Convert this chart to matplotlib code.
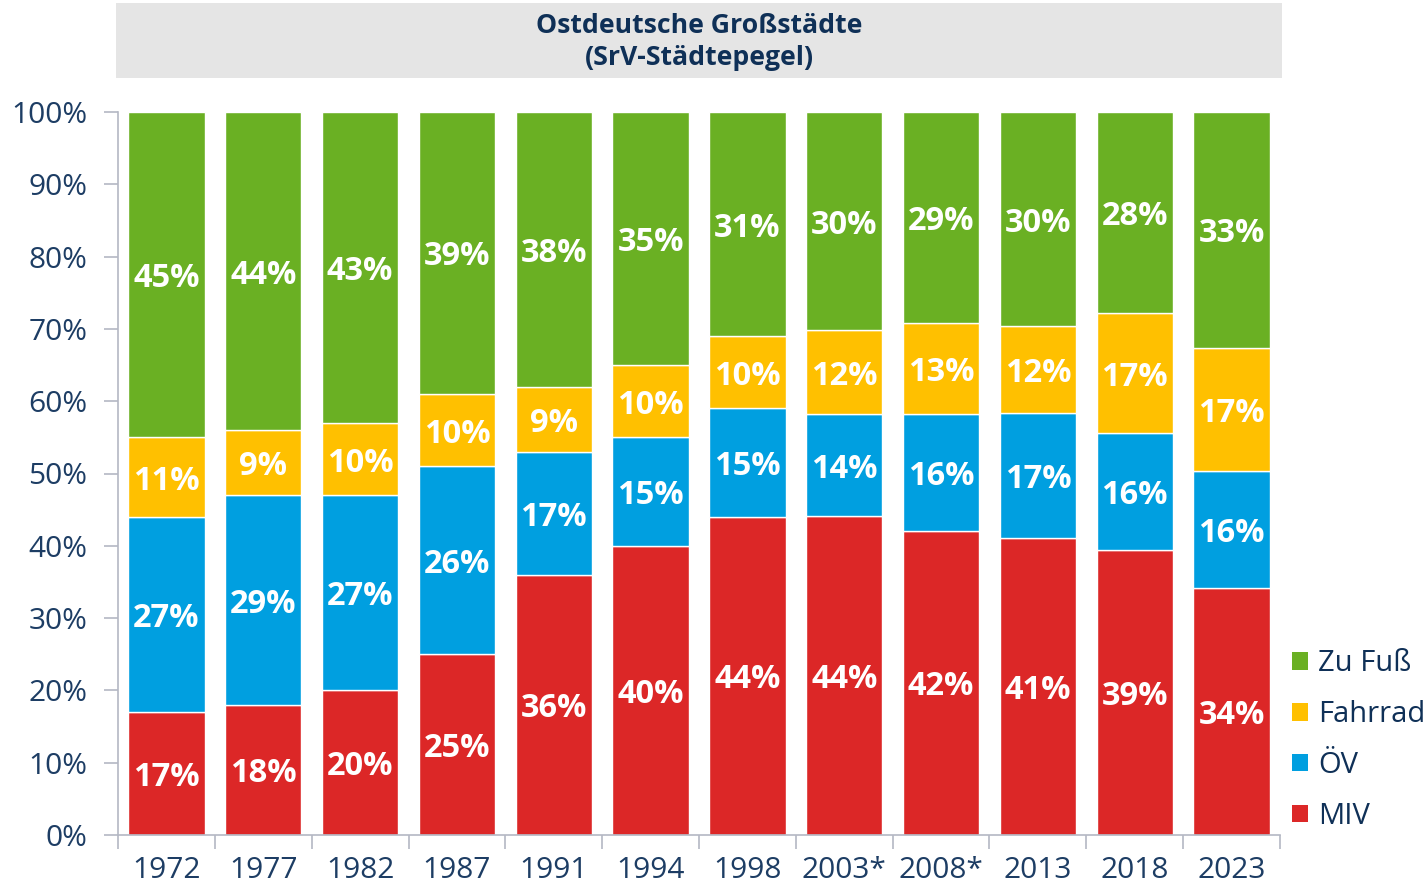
import matplotlib
matplotlib.use("Agg")
import matplotlib.pyplot as plt
from matplotlib.patches import Rectangle, Patch
import numpy as np

plt.rcParams['font.family'] = ['Open Sans', 'DejaVu Sans']

years = ["1972", "1977", "1982", "1987", "1991", "1994", "1998", "2003*", "2008*", "2013", "2018", "2023"]
miv = [17, 18, 20, 25, 36, 40, 44, 44.1, 42.1, 41.1, 39.4, 34.1]
oev = [27, 29, 27, 26, 17, 15, 15, 14.1, 16.1, 17.3, 16.2, 16.3]
fahrrad = [11, 9, 10, 10, 9, 10, 10, 11.6, 12.6, 12.0, 16.6, 17.0]
zufuss = [45, 44, 43, 39, 38, 35, 31, 30.2, 29.2, 29.6, 27.8, 32.6]

series = [("MIV", miv, "#dc2727"), ("ÖV", oev, "#009fe0"),
          ("Fahrrad", fahrrad, "#ffc000"), ("Zu Fuß", zufuss, "#6ab023")]

title_lines = "Ostdeutsche Großstädte\n(SrV-Städtepegel)"

navy = "#0f3057"
tickcol = "#1d3d64"
axcol = "#b4b8c4"

W, H = 1424, 882
fig = plt.figure(figsize=(W / 100, H / 100), dpi=100)
ax = fig.add_axes([118 / W, 1 - 835 / H, (1280 - 118) / W, (835 - 112) / H])

x = np.arange(len(years))
bottom = np.zeros(len(years))
for name, vals, col in series:
    vals = np.array(vals, dtype=float)
    ax.bar(x, vals, bottom=bottom, width=0.79, color=col, edgecolor="white",
           linewidth=1.0, label=name, zorder=2)
    for xi, b, v in zip(x, bottom, vals):
        ax.text(xi, b + v / 2, f"{round(v):d}%", ha="center", va="center_baseline",
                color="white", fontsize=23.5, fontweight="bold", zorder=3)
    bottom += vals

ax.set_xlim(-0.5, len(years) - 0.5)
ax.set_ylim(0, 100)
ax.set_yticks(np.arange(0, 101, 10))
ax.set_yticklabels([f"{v}%" for v in range(0, 101, 10)])
ax.set_xticks(x)
ax.set_xticklabels(years)
ax.set_xticks(np.arange(-0.5, len(years), 1.0), minor=True)
ax.tick_params(axis="x", which="major", length=0, labelsize=21.5, labelcolor=tickcol, pad=15)
ax.tick_params(axis="x", which="minor", length=10, color=axcol, width=1.2)
ax.tick_params(axis="y", length=10, color=axcol, width=1.2, labelsize=21.5, labelcolor=tickcol, pad=12)
for s in ["top", "right"]:
    ax.spines[s].set_visible(False)
for s in ["left", "bottom"]:
    ax.spines[s].set_color(axcol)
    ax.spines[s].set_linewidth(1.2)

# title box
fig.patches.append(Rectangle((116 / W, 1 - 78 / H), (1282 - 116) / W, 75 / H,
                             transform=fig.transFigure, facecolor="#e5e5e5",
                             edgecolor="none", zorder=0))
fig.text(699 / W, 1 - 42 / H, title_lines, ha="center", va="center",
         fontsize=19.2, fontweight="bold", color=navy, linespacing=1.3)

handles = [Patch(facecolor=c, edgecolor="none") for _, _, c in series][::-1]
labels = [n for n, _, _ in series][::-1]
leg = fig.legend(handles, labels, loc="center left",
                 bbox_to_anchor=(1292 / W, 1 - 740 / H), frameon=False,
                 fontsize=21, handlelength=0.55, handleheight=0.55,
                 handletextpad=0.35, labelspacing=0.75, borderpad=0, borderaxespad=0)
for t in leg.get_texts():
    t.set_color(navy)

fig.savefig("out.png", dpi=100)
